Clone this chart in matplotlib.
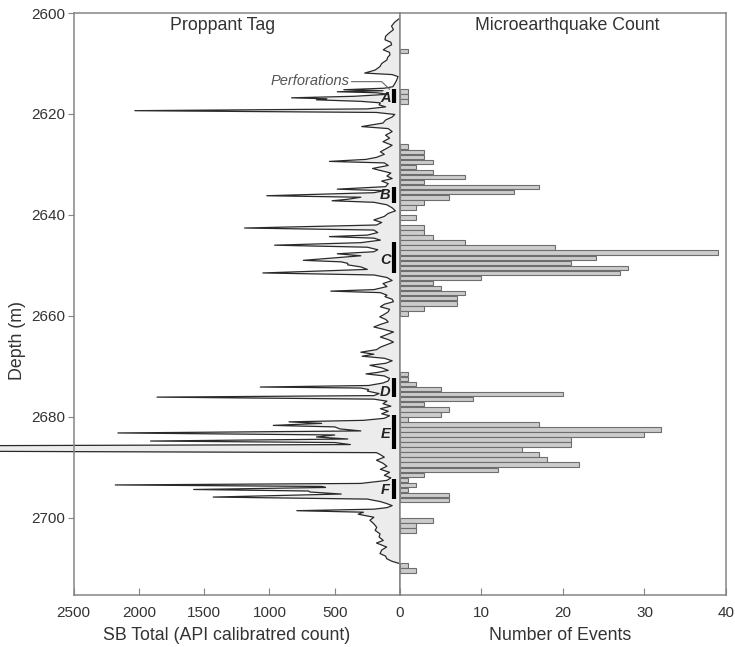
import matplotlib.pyplot as plt

plt.rcParams['font.family'] = ['Liberation Sans', 'DejaVu Sans']

# proppant tag log (depth in m, SB total in API counts)
depth = [2601.2, 2601.8, 2602.6, 2603.3, 2604.0, 2604.6, 2605.3, 2605.8, 2606.3, 2606.8,
         2607.3, 2607.8, 2608.3, 2608.8, 2609.3, 2610.0, 2610.6, 2611.3, 2611.9, 2612.2,
         2612.6, 2613.3, 2614.0, 2614.6, 2614.9, 2615.2, 2615.4, 2615.6, 2615.8, 2616.1,
         2616.5, 2616.8, 2617.0, 2617.2, 2617.5, 2617.8, 2618.2, 2618.6, 2619.0, 2619.35,
         2619.7, 2620.1, 2620.6, 2621.2, 2621.8, 2622.5, 2622.9, 2623.5, 2624.2, 2624.8,
         2625.5, 2626.2, 2626.8, 2627.5, 2628.0, 2628.6, 2629.0, 2629.4, 2629.7, 2630.2,
         2630.8, 2631.2, 2631.7, 2632.3, 2632.8, 2633.3, 2633.8, 2634.4, 2634.9, 2635.2,
         2635.6, 2636.2, 2636.5, 2636.9, 2637.2, 2637.5, 2638.0, 2638.6, 2639.2, 2639.7,
         2640.3, 2641.0, 2641.5, 2642.0, 2642.6, 2643.0, 2643.5, 2644.0, 2644.3, 2644.6,
         2645.0, 2645.5, 2646.0, 2646.4, 2646.9, 2647.3, 2647.7, 2648.1, 2648.5, 2649.0,
         2649.3, 2649.6, 2649.9, 2650.3, 2650.8, 2651.5, 2651.9, 2652.4, 2653.0, 2653.6,
         2654.2, 2654.8, 2655.1, 2655.4, 2655.9, 2656.2, 2656.7, 2657.2, 2657.7, 2658.2,
         2658.7, 2659.2, 2659.7, 2660.2, 2660.7, 2661.2, 2661.7, 2662.2, 2662.7, 2663.2,
         2663.7, 2664.2, 2664.7, 2665.2, 2665.7, 2666.2, 2666.7, 2667.2, 2667.6, 2668.0,
         2668.4, 2668.9, 2669.4, 2669.8, 2670.3, 2670.8, 2671.2, 2671.5, 2671.9, 2672.4,
         2672.9, 2673.3, 2673.8, 2674.1, 2674.3, 2674.6, 2674.9, 2675.4, 2675.8, 2676.1,
         2676.5, 2676.9, 2677.4, 2677.9, 2678.4, 2678.9, 2679.4, 2679.8, 2680.3, 2680.7,
         2681.0, 2681.3, 2681.7, 2682.0, 2682.4, 2682.8, 2683.2, 2683.6, 2684.0, 2684.4,
         2684.8, 2685.1, 2685.5, 2685.75, 2686.8, 2687.1, 2687.5, 2688.0, 2688.6, 2689.2,
         2689.8, 2690.4, 2691.0, 2691.6, 2692.1, 2692.6, 2693.2, 2693.5, 2693.8, 2694.0,
         2694.4, 2694.7, 2694.9, 2695.3, 2695.9, 2696.3, 2696.8, 2697.2, 2697.6, 2698.0,
         2698.3, 2698.6, 2698.9, 2699.3, 2699.9, 2700.5, 2701.2, 2701.9, 2702.5, 2703.2,
         2703.8, 2704.5, 2705.0, 2705.8, 2706.4, 2707.1, 2707.6, 2708.1, 2708.6, 2709.1]
sb_total = [10, 40, 65, 50, 85, 110, 115, 70, 64, 100,
            128, 80, 77, 95, 100, 140, 153, 190, 270, 60,
            15, 25, 40, 55, 120, 430, 130, 480, 180, 90,
            350, 830, 560, 640, 300, 150, 160, 110, 250, 2030,
            180, 40, 60, 110, 130, 293, 90, 60, 110, 80,
            130, 60, 100, 150, 120, 180, 260, 540, 120, 90,
            210, 150, 70, 100, 60, 140, 90, 110, 480, 120,
            200, 1020, 300, 400, 520, 200, 100, 60, 35, 90,
            120, 200, 140, 180, 1190, 200, 170, 250, 540, 200,
            150, 300, 960, 250, 170, 200, 480, 300, 500, 740,
            450, 400, 400, 300, 250, 1050, 200, 100, 60, 130,
            100, 200, 530, 150, 100, 115, 60, 50, 120, 150,
            80, 90, 120, 155, 110, 90, 150, 200, 120, 50,
            100, 150, 90, 50, 100, 150, 180, 300, 200, 290,
            120, 60, 110, 230, 140, 90, 170, 260, 120, 80,
            90, 130, 240, 1070, 300, 240, 250, 160, 200, 1860,
            200, 100, 130, 70, 150, 90, 140, 80, 120, 280,
            850, 600, 970, 500, 460, 300, 2160, 500, 640, 400,
            1910, 500, 380, 3600, 3600, 180, 150, 120, 180, 130,
            100, 150, 80, 120, 70, 100, 300, 2180, 600, 570,
            1580, 700, 690, 450, 1430, 250, 150, 100, 60, 100,
            200, 790, 280, 320, 200, 230, 200, 178, 190, 153,
            160, 128, 180, 102, 140, 153, 110, 102, 64, 0]

# perforation intervals (top, bottom) and labels
perf_top = [2615.1, 2634.4, 2645.3, 2672.3, 2679.6, 2692.3]
perf_bot = [2617.9, 2637.7, 2651.6, 2676.0, 2686.3, 2696.2]
perf_lbl = ['A', 'B', 'C', 'D', 'E', 'F']
perf_lbl_depth = [2616.9, 2636.1, 2648.9, 2675.0, 2683.5, 2694.6]

# microearthquake counts per 1 m bin (bin centres)
event_depth = [2607.5, 2615.5, 2616.5, 2617.5] + \
              [2626.5 + i for i in range(34)] + \
              [2671.5 + i for i in range(26)] + \
              [2700.5, 2701.5, 2702.5, 2709.5, 2710.5]
event_count = [1, 1, 1, 1] + \
              [1, 3, 3, 4, 2, 4, 8, 3, 17, 14, 6, 3, 2, 0, 2, 0, 3, 3, 4, 8,
               19, 39, 24, 21, 28, 27, 10, 4, 5, 8, 7, 7, 3, 1] + \
              [1, 1, 2, 5, 20, 9, 3, 6, 5, 1, 17, 32, 30, 21, 21, 15, 17, 18, 22, 12,
               3, 1, 2, 1, 6, 6] + \
              [4, 2, 2, 1, 2]

txt = '#333333'
frame = '#858585'

fig = plt.figure(figsize=(7.35, 6.47), dpi=100)
ax1 = fig.add_axes([0.1, 0.0804, 0.4442, 0.8995])
ax2 = fig.add_axes([0.5442, 0.0804, 0.4435, 0.8995], sharey=ax1)

# left panel: proppant tag log
ax1.fill_betweenx(depth, 0, sb_total, color='#ececec', lw=0, clip_on=False)
ax1.plot(sb_total, depth, color='#2a2a2a', lw=0.9, clip_on=False)
ax1.set_xlim(2500, 0)
ax1.set_ylim(2715.3, 2600)

for t, b in zip(perf_top, perf_bot):
    ax1.plot([46, 46], [t, b], color='black', lw=3, solid_capstyle='butt')
for lbl, d in zip(perf_lbl, perf_lbl_depth):
    ax1.text(112, d, lbl, ha='center', va='center', fontsize=10.5,
             fontweight='bold', fontstyle='italic', color='#222222')

ax1.text(383, 2613.4, 'Perforations', ha='right', va='center', fontsize=10.5,
         fontstyle='italic', color='#555555')
ax1.plot([370, 140, 80], [2613.6, 2613.6, 2615.1], color='#666666', lw=0.8)

ax1.text(1355, 2602.4, 'Proppant Tag', ha='center', va='center', fontsize=12.8, color=txt)

ax1.set_yticks(range(2600, 2701, 20))
ax1.set_xticks([2500, 2000, 1500, 1000, 500, 0])
ax1.tick_params(axis='y', direction='out', length=4, color=frame, labelsize=11,
                labelcolor=txt, pad=2)
ax1.tick_params(axis='x', direction='in', length=5, color=frame, labelsize=11,
                labelcolor=txt, pad=8)

# right panel: event histogram
ax2.barh(event_depth, event_count, height=0.9, color='#cccccc',
         edgecolor='#6e6e6e', linewidth=0.8)
ax2.set_xlim(0, 40)
ax2.set_xticks([0, 10, 20, 30, 40])
ax2.set_xticklabels(['', '10', '20', '30', '40'])
ax2.tick_params(axis='x', direction='in', length=5, color=frame, labelsize=11,
                labelcolor=txt, pad=8)
ax2.tick_params(axis='y', left=False, labelleft=False)
ax2.text(20.5, 2602.4, 'Microearthquake Count', ha='center', va='center',
         fontsize=12.8, color=txt)

for ax in (ax1, ax2):
    for s in ax.spines.values():
        s.set_color(frame)
        s.set_linewidth(1.1)

fig.text(226.5 / 735, 1 - 635 / 647, 'SB Total (API calibratred count)',
         ha='center', va='center', fontsize=12.8, color=txt)
fig.text(560 / 735, 1 - 635 / 647, 'Number of Events',
         ha='center', va='center', fontsize=12.8, color=txt)
fig.text(17 / 735, 1 - 340 / 647, 'Depth (m)', rotation=90,
         ha='center', va='center', fontsize=12.8, color=txt)

fig.savefig('out.png', dpi=100)
